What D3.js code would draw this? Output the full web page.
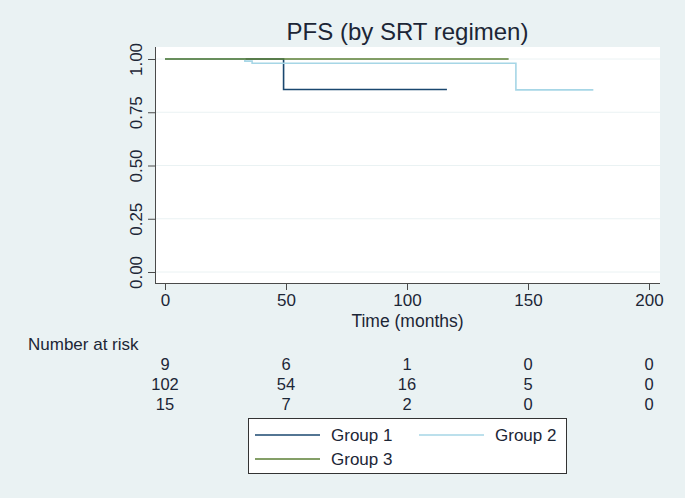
<!DOCTYPE html>
<html>
<head>
<meta charset="utf-8">
<script src="https://cdn.jsdelivr.net/npm/d3@7"></script>
<style>
  body { margin: 0; background: #eaf2f3; }
  svg { display: block; font-family: "Liberation Sans", Arial, sans-serif; }
</style>
</head>
<body>
<script>
// Kaplan-Meier step estimates
var groupNames = ["Group 1", "Group 2", "Group 3"];
var colors = ["#1a476f", "#a6d6e6", "#5b7f35"];

var g1Times = [0, 49, 116.5];
var g1Surv = [1, 0.857, 0.857];
var g2Times = [0, 33, 36, 145, 177];
var g2Surv = [1, 0.99, 0.98, 0.855, 0.855];
var g3Times = [0, 142];
var g3Surv = [1, 1];

var xTicks = [0, 50, 100, 150, 200];
var yTicks = [0, 0.25, 0.5, 0.75, 1];

var atRisk1 = [9, 6, 1, 0, 0];
var atRisk2 = [102, 54, 16, 5, 0];
var atRisk3 = [15, 7, 2, 0, 0];

var width = 685, height = 498;
var plot = {left: 155, right: 660, top: 47, bottom: 283};
var textColor = "#1c2636";

var series = [
  {name: groupNames[0], times: g1Times, surv: g1Surv},
  {name: groupNames[1], times: g2Times, surv: g2Surv},
  {name: groupNames[2], times: g3Times, surv: g3Surv}
];

var svg = d3.select("body").append("svg").attr("width", width).attr("height", height);

svg.append("rect").attr("width", width).attr("height", height).attr("fill", "#eaf2f3");
svg.append("rect")
  .attr("x", plot.left).attr("y", plot.top)
  .attr("width", plot.right - plot.left).attr("height", plot.bottom - plot.top)
  .attr("fill", "#fff");

var x = d3.scaleLinear().domain([0, 200]).range([165, 649]);
var y = d3.scaleLinear().domain([0, 1]).range([272, 59]);

// gridlines
svg.append("g").selectAll("line").data(yTicks).join("line")
  .attr("x1", plot.left).attr("x2", plot.right)
  .attr("y1", function(d){ return y(d); }).attr("y2", function(d){ return y(d); })
  .attr("stroke", "#eaf2f3").attr("stroke-width", 1);

// title
svg.append("text").attr("x", (plot.left + plot.right) / 2).attr("y", 40)
  .attr("text-anchor", "middle").attr("font-size", 24).attr("fill", textColor)
  .text("PFS (by SRT regimen)");

// x axis
var xAxis = svg.append("g").attr("transform", "translate(0," + plot.bottom + ")")
  .call(d3.axisBottom(x).tickValues(xTicks).tickSize(7).tickPadding(4).tickSizeOuter(0));
xAxis.select(".domain").attr("d", "M" + plot.left + ",0.5H" + plot.right);

// y axis
var yAxis = svg.append("g").attr("transform", "translate(" + plot.left + ",0)")
  .call(d3.axisLeft(y).tickValues(yTicks).tickFormat(d3.format(".2f")).tickSize(7).tickSizeOuter(0));
yAxis.select(".domain").attr("d", "M0.5," + plot.top + "V" + plot.bottom);
yAxis.selectAll(".tick text")
  .attr("x", null).attr("dy", null)
  .attr("text-anchor", "middle")
  .attr("transform", "translate(-13,0) rotate(-90)");

[xAxis, yAxis].forEach(function(a){
  a.attr("font-family", null).attr("font-size", 17);
  a.selectAll(".domain, .tick line").attr("stroke", "#4a4a4a");
  a.selectAll(".tick text").attr("fill", textColor);
});

svg.append("text").attr("x", (plot.left + plot.right) / 2).attr("y", 327)
  .attr("text-anchor", "middle").attr("font-size", 17.5).attr("fill", textColor)
  .text("Time (months)");

// survival curves
var line = d3.line()
  .x(function(d){ return x(d[0]); })
  .y(function(d){ return y(d[1]); })
  .curve(d3.curveStepAfter);

svg.append("g").selectAll("path").data(series).join("path")
  .attr("d", function(s){ return line(s.times.map(function(t, i){ return [t, s.surv[i]]; })); })
  .attr("fill", "none")
  .attr("stroke", function(s, i){ return colors[i]; })
  .attr("stroke-width", 1.6);

// number at risk
svg.append("text").attr("x", 28).attr("y", 350)
  .attr("font-size", 17).attr("fill", textColor).text("Number at risk");

var riskRows = [atRisk1, atRisk2, atRisk3];
riskRows.forEach(function(row, r){
  svg.append("g").selectAll("text").data(row).join("text")
    .attr("x", function(d, i){ return x(xTicks[i]); })
    .attr("y", 370 + r * 20)
    .attr("text-anchor", "middle").attr("font-size", 16.5).attr("fill", textColor)
    .text(function(d){ return d; });
});

// legend
var legend = svg.append("g");
legend.append("rect").attr("x", 248.5).attr("y", 418.5).attr("width", 318).attr("height", 55)
  .attr("fill", "#fff").attr("stroke", "#333").attr("stroke-width", 1);
var legPos = [[255, 435], [419, 435], [255, 459]];
series.forEach(function(s, i){
  var p = legPos[i];
  legend.append("line").attr("x1", p[0]).attr("x2", p[0] + 65)
    .attr("y1", p[1]).attr("y2", p[1])
    .attr("stroke", colors[i]).attr("stroke-width", 1.6);
  legend.append("text").attr("x", p[0] + 76).attr("y", p[1] + 6)
    .attr("font-size", 17).attr("fill", textColor).text(s.name);
});
</script>
</body>
</html>
